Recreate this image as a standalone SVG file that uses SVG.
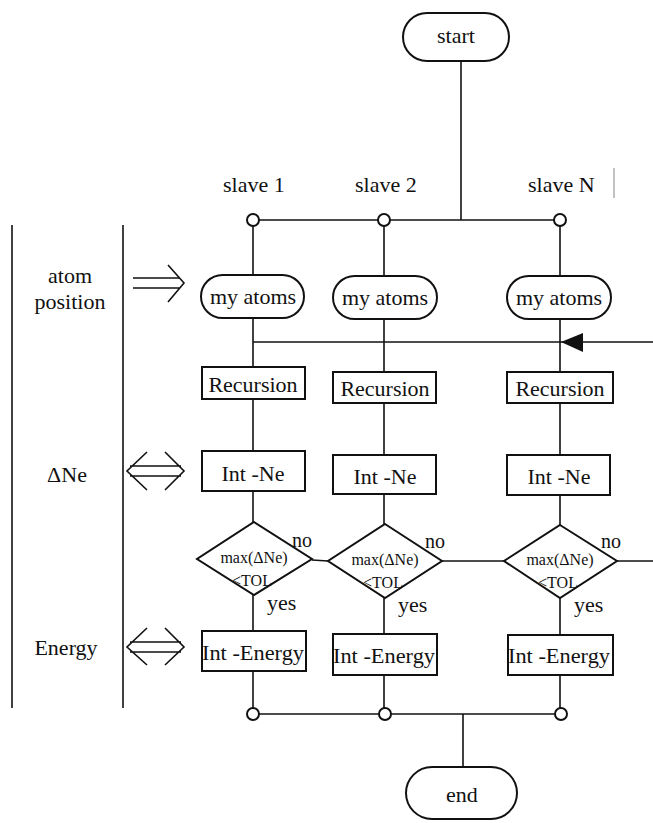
<svg xmlns="http://www.w3.org/2000/svg" width="653" height="823" viewBox="0 0 653 823" font-family="'Liberation Serif', serif">
<style>
text{fill:#111;font-size:22px}
.c{text-anchor:middle}
.small{font-size:16px}
.box{fill:#fff;stroke:#111;stroke-width:2}
.ln{fill:none;stroke:#111;stroke-width:1.6}
.dot{fill:#fff;stroke:#111;stroke-width:2}
</style>
<rect width="653" height="823" fill="#fff"/>

<g id="connectors" class="ln">
  <line x1="461" y1="61" x2="461" y2="220"/>
  <line x1="253" y1="220" x2="560" y2="220"/>
  <line x1="253" y1="220" x2="253" y2="714"/>
  <line x1="384" y1="220" x2="384" y2="714"/>
  <line x1="560" y1="220" x2="560" y2="714"/>
  <line x1="253" y1="342" x2="653" y2="342"/>
  <polygon points="561,342 583,333 583,352" fill="#111" stroke="none"/>
  <line x1="312" y1="560" x2="328" y2="561"/>
  <line x1="442" y1="561" x2="504" y2="561"/>
  <line x1="617" y1="561" x2="653" y2="561"/>
  <line x1="253" y1="714" x2="561" y2="714"/>
  <line x1="463" y1="714" x2="463" y2="767"/>
  <circle class="dot" cx="253" cy="220" r="6"/>
  <circle class="dot" cx="384" cy="220" r="6"/>
  <circle class="dot" cx="560" cy="220" r="6"/>
  <circle class="dot" cx="253" cy="714" r="6"/>
  <circle class="dot" cx="385" cy="714" r="6"/>
  <circle class="dot" cx="561" cy="714" r="6"/>
</g>

<g id="start">
  <rect class="box" x="403" y="13" width="106" height="48" rx="24"/>
  <text class="c" x="456" y="43">start</text>
</g>
<g id="end">
  <rect class="box" x="406" y="767" width="111" height="52" rx="26"/>
  <text class="c" x="462" y="802">end</text>
</g>

<g id="slave-labels">
  <text x="223" y="192">slave 1</text>
  <text x="355" y="192">slave 2</text>
  <text x="528" y="192">slave N</text>
  <line x1="614" y1="168" x2="614" y2="198" stroke="#999" stroke-width="1.2"/>
</g>

<g id="myatoms1"><rect class="box" x="201" y="275" width="103" height="43" rx="21.5"/><text class="c" x="253" y="304">my atoms</text></g>
<g id="myatoms2"><rect class="box" x="333" y="276" width="104" height="43" rx="21.5"/><text class="c" x="385" y="305">my atoms</text></g>
<g id="myatoms3"><rect class="box" x="507" y="276" width="104" height="43" rx="21.5"/><text class="c" x="559" y="305">my atoms</text></g>

<g id="recursion1"><rect class="box" x="202" y="367" width="103" height="32"/><text class="c" x="253" y="392">Recursion</text></g>
<g id="recursion2"><rect class="box" x="333" y="372" width="103" height="31"/><text class="c" x="385" y="396">Recursion</text></g>
<g id="recursion3"><rect class="box" x="507" y="372" width="106" height="31"/><text class="c" x="560" y="396">Recursion</text></g>

<g id="intne1"><rect class="box" x="202" y="451" width="103" height="40"/><text class="c" x="253" y="481">Int -Ne</text></g>
<g id="intne2"><rect class="box" x="333" y="455" width="103" height="39"/><text class="c" x="385" y="484">Int -Ne</text></g>
<g id="intne3"><rect class="box" x="507" y="455" width="103" height="40"/><text class="c" x="559" y="484">Int -Ne</text></g>

<g id="decision1">
  <polygon class="box" points="254,522 312,559 254,595 197,559"/>
  <text class="c small" x="254" y="563">max(ΔNe)</text>
  <text class="c small" x="252" y="586">&lt;TOL</text>
  <text x="292" y="547" style="font-size:20px">no</text>
  <text x="267" y="610">yes</text>
</g>
<g id="decision2">
  <polygon class="box" points="385,524 442,561 385,598 328,561"/>
  <text class="c small" x="385" y="565">max(ΔNe)</text>
  <text class="c small" x="383" y="588">&lt;TOL</text>
  <text x="425" y="548" style="font-size:20px">no</text>
  <text x="398" y="612">yes</text>
</g>
<g id="decision3">
  <polygon class="box" points="560,525 617,561 560,598 504,561"/>
  <text class="c small" x="560" y="565">max(ΔNe)</text>
  <text class="c small" x="558" y="588">&lt;TOL</text>
  <text x="601" y="548" style="font-size:20px">no</text>
  <text x="574" y="612">yes</text>
</g>

<g id="energy1"><rect class="box" x="202" y="631" width="104" height="40"/><text x="202" y="660" textLength="102" lengthAdjust="spacingAndGlyphs">Int -Energy</text></g>
<g id="energy2"><rect class="box" x="333" y="634" width="104" height="41"/><text x="333" y="663" textLength="102" lengthAdjust="spacingAndGlyphs">Int -Energy</text></g>
<g id="energy3"><rect class="box" x="508" y="635" width="105" height="40"/><text x="508" y="663" textLength="102" lengthAdjust="spacingAndGlyphs">Int -Energy</text></g>

<g id="legend">
  <line class="ln" x1="12" y1="225" x2="12" y2="708"/>
  <line class="ln" x1="123" y1="225" x2="123" y2="708"/>
  <text class="c" x="70" y="283">atom</text>
  <text class="c" x="70" y="309">position</text>
  <text class="c" x="67" y="482">ΔNe</text>
  <text class="c" x="66" y="655">Energy</text>
  <g class="ln">
    <path d="M133,278 H180 M133,288 H180 M168,265 L184,283 L168,302"/>
    <path d="M130,466 H181 M130,476 H181 M147,452 L127,471 L147,490 M165,452 L184,471 L165,490"/>
    <path d="M130,642 H181 M130,652 H181 M147,628 L127,647 L147,665 M165,628 L184,647 L165,665"/>
  </g>
</g>
</svg>
